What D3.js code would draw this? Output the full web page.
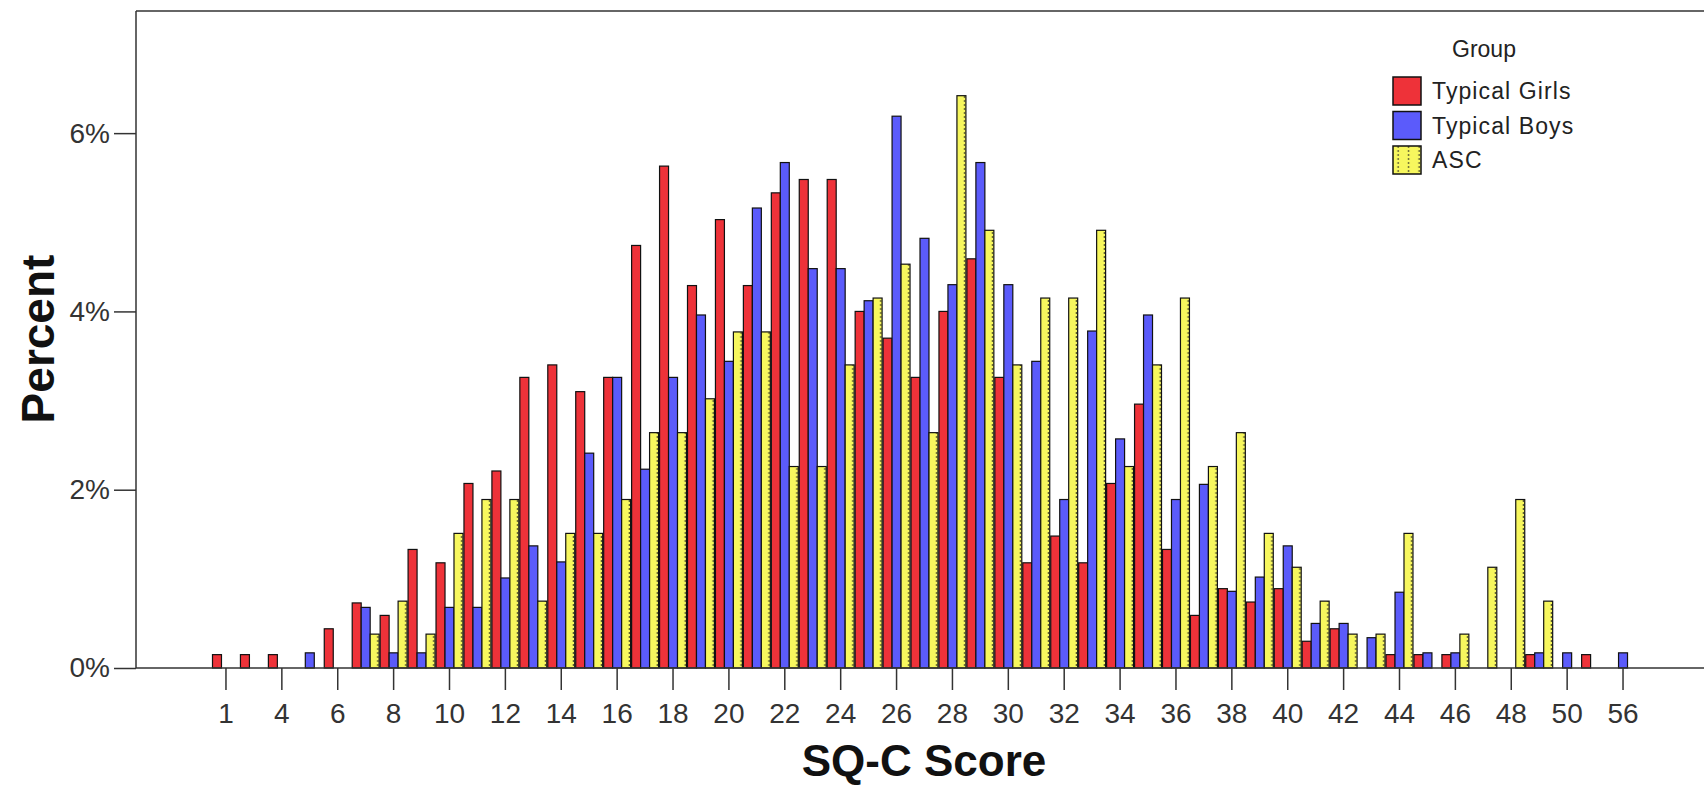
<!DOCTYPE html>
<html>
<head>
<meta charset="utf-8">
<script src="https://cdn.jsdelivr.net/npm/d3@7"></script>
<style>
  body { margin: 0; background: #fff; }
  svg { display: block; }
  text { font-family: "Liberation Sans", Arial, sans-serif; }
</style>
</head>
<body>
<div id="chart"></div>
<script>
// SQ-C score categories (only the scores that occur in the data)
var scores = ["1","2","4","5","6","7","8","9","10","11","12","13","14","15","16","17","18","19","20",
  "21","22","23","24","25","26","27","28","29","30","31","32","33","34","35","36","37","38","39","40",
  "41","42","43","44","45","46","47","48","49","50","52","56"];

// labels shown under the axis (every other category)
var xTickLabels = ["1","4","6","8","10","12","14","16","18","20","22","24","26","28","30","32","34","36",
  "38","40","42","44","46","48","50","56"];

var groups = ["Typical Girls", "Typical Boys", "ASC"];

// percent per score, one value per category above
var typicalGirls = [0.15,0.15,0.15,0,0.44,0.73,0.59,1.33,1.18,2.07,2.21,3.26,3.40,3.10,3.26,4.74,5.63,4.29,5.03,
  4.29,5.33,5.48,5.48,4.00,3.70,3.26,4.00,4.59,3.26,1.18,1.48,1.18,2.07,2.96,1.33,0.59,0.89,0.74,0.89,
  0.30,0.44,0,0.15,0.15,0.15,0,0,0.15,0,0.15,0];

var typicalBoys = [0,0,0,0.17,0,0.68,0.17,0.17,0.68,0.68,1.01,1.37,1.19,2.41,3.26,2.23,3.26,3.96,3.44,
  5.16,5.67,4.48,4.48,4.12,6.19,4.82,4.30,5.67,4.30,3.44,1.89,3.78,2.57,3.96,1.89,2.06,0.86,1.02,1.37,
  0.50,0.50,0.34,0.85,0.17,0.17,0,0,0.17,0.17,0,0.17];

var asc = [0,0,0,0,0,0.38,0.75,0.38,1.51,1.89,1.89,0.75,1.51,1.51,1.89,2.64,2.64,3.02,3.77,
  3.77,2.26,2.26,3.40,4.15,4.53,2.64,6.42,4.91,3.40,4.15,4.15,4.91,2.26,3.40,4.15,2.26,2.64,1.51,1.13,
  0.75,0.38,0.38,1.51,0,0.38,1.13,1.89,0.75,0,0,0];

var yTicks = [0, 2, 4, 6];

var width = 1704, height = 787;
var plotTop = 11, plotBottom = 668, plotLeft = 136;

var svg = d3.select("#chart")
  .append("svg")
    .attr("width", width)
    .attr("height", height);

// dotted fill used by the ASC bars
var defs = svg.append("defs");
var pat = defs.append("pattern")
    .attr("id", "ascDots")
    .attr("patternUnits", "userSpaceOnUse")
    .attr("width", 10.5)
    .attr("height", 4);
pat.append("rect")
    .attr("width", 10.5)
    .attr("height", 4)
    .attr("fill", "#f7f75e");
pat.append("rect")
    .attr("x", 4.5)
    .attr("y", 0)
    .attr("width", 1.3)
    .attr("height", 2)
    .attr("fill", "#5a5a30");

var colors = d3.scaleOrdinal()
  .domain(groups)
  .range(["#ee3239", "#5b5bfb", "url(#ascDots)"]);

// scales
var x = d3.scaleBand()
  .domain(scores)
  .range([212, 1637])
  .padding(0);

var xGroup = d3.scaleBand()
  .domain(groups)
  .range([0.5, x.bandwidth() - 0.5]);

var y = d3.scaleLinear()
  .domain([0, 7.37])
  .range([plotBottom, plotTop]);

// rows of the chart
var rows = scores.map((s, i) => {
  return { score: s, values: [
    { group: "Typical Girls", value: typicalGirls[i] },
    { group: "Typical Boys", value: typicalBoys[i] },
    { group: "ASC", value: asc[i] }
  ] };
});

// bars
svg.append("g")
  .selectAll("g")
  .data(rows)
  .join("g")
    .attr("transform", (d) => "translate(" + x(d.score) + ",0)")
  .selectAll("rect")
  .data((d) => d.values.filter((v) => v.value > 0))
  .join("rect")
    .attr("x", (d) => xGroup(d.group))
    .attr("y", (d) => y(d.value))
    .attr("width", xGroup.bandwidth())
    .attr("height", (d) => y(0) - y(d.value))
    .attr("fill", (d) => colors(d.group))
    .attr("stroke", "#111")
    .attr("stroke-width", 1.2);

// X axis
var xAxis = svg.append("g")
  .attr("transform", "translate(0," + plotBottom + ")")
  .call(d3.axisBottom(x)
    .tickValues(xTickLabels)
    .tickSize(22)
    .tickPadding(13));
xAxis.select(".domain").remove();
xAxis.selectAll("line").attr("stroke", "#333").attr("stroke-width", 1.5);
xAxis.selectAll("text")
  .attr("font-size", 28)
  .attr("fill", "#333")
  .style("font-family", "'Liberation Sans', Arial, sans-serif");

// Y axis
var yAxis = svg.append("g")
  .attr("transform", "translate(" + plotLeft + ",0)")
  .call(d3.axisLeft(y)
    .tickValues(yTicks)
    .tickSize(22)
    .tickPadding(4)
    .tickFormat((d) => d + "%"));
yAxis.select(".domain").remove();
yAxis.selectAll("line").attr("stroke", "#333").attr("stroke-width", 1.5);
yAxis.selectAll("text")
  .attr("font-size", 28)
  .attr("fill", "#333")
  .style("font-family", "'Liberation Sans', Arial, sans-serif");

// frame lines
var frame = svg.append("g")
  .attr("stroke", "#333")
  .attr("stroke-width", 1.5);
frame.append("line").attr("x1", plotLeft).attr("x2", plotLeft).attr("y1", plotTop).attr("y2", plotBottom);
frame.append("line").attr("x1", plotLeft).attr("x2", width).attr("y1", plotTop).attr("y2", plotTop);
frame.append("line").attr("x1", plotLeft).attr("x2", width).attr("y1", plotBottom).attr("y2", plotBottom);

// axis titles
svg.append("text")
  .attr("x", 924)
  .attr("y", 776)
  .attr("text-anchor", "middle")
  .attr("font-size", 44)
  .attr("font-weight", "bold")
  .attr("fill", "#111")
  .text("SQ-C Score");

svg.append("text")
  .attr("transform", "translate(54,339) rotate(-90)")
  .attr("text-anchor", "middle")
  .attr("font-size", 46)
  .attr("font-weight", "bold")
  .attr("fill", "#111")
  .text("Percent");

// legend
var legend = svg.append("g");
legend.append("text")
  .attr("x", 1484)
  .attr("y", 57)
  .attr("text-anchor", "middle")
  .attr("font-size", 23)
  .attr("fill", "#222")
  .text("Group");

var items = legend.selectAll("g.item")
  .data(groups)
  .join("g")
    .attr("class", "item")
    .attr("transform", (d, i) => "translate(1393," + (77 + i * 34.5) + ")");
items.append("rect")
  .attr("width", 28)
  .attr("height", 28)
  .attr("fill", (d) => colors(d))
  .attr("stroke", "#111")
  .attr("stroke-width", 1.5);
items.append("text")
  .attr("x", 39)
  .attr("y", 22)
  .attr("font-size", 23)
  .attr("letter-spacing", 1.1)
  .attr("fill", "#222")
  .text((d) => d);
</script>
</body>
</html>
